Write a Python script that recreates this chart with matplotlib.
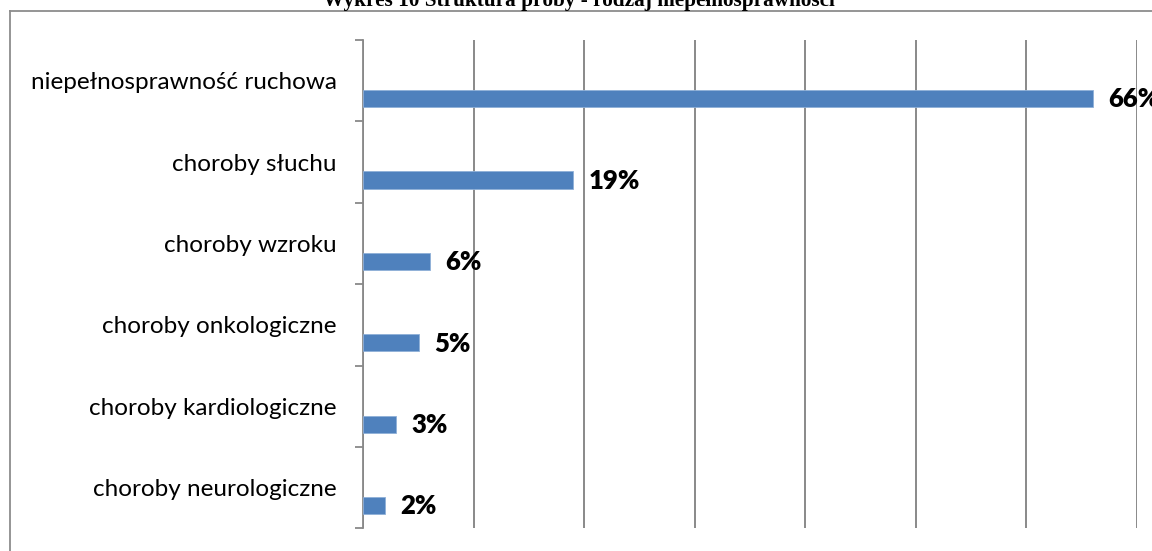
import matplotlib
matplotlib.use("Agg")
import matplotlib.pyplot as plt
from matplotlib.lines import Line2D
import numpy as np

# data (percent of respondents)
categories = ["niepełnosprawność ruchowa", "choroby słuchu", "choroby wzroku",
              "choroby onkologiczne", "choroby kardiologiczne", "choroby neurologiczne"]
values = [66, 19, 6, 5, 3, 2]
value_labels = ["66%", "19%", "6%", "5%", "3%", "2%"]
title = "Wykres 10 Struktura próby - rodzaj niepełnosprawności"

W, H = 1152, 551
fig = plt.figure(figsize=(W / 100, H / 100), dpi=100)
grey = "#898989"

# outer chart border (open on the right and bottom, cut by the image edge)
fig.add_artist(Line2D([10 / W, 10 / W], [0, 1 - 10.7 / H], transform=fig.transFigure,
                      color="#8c8c8c", lw=1.3))
fig.add_artist(Line2D([10 / W, 1], [1 - 10.7 / H, 1 - 10.7 / H], transform=fig.transFigure,
                      color="#8c8c8c", lw=1.3))

# title, cut off at the top edge like in the source
fig.text(579 / W, 1 - 6 / H, title, ha="center", va="baseline",
         family="Liberation Serif", weight="bold", fontsize=15.3)

ax = fig.add_axes([363.3 / W, 1 - 528.3 / H, (1136.7 - 363.3) / W, (528.3 - 40) / H])
y = np.arange(len(categories))
ax.barh(y + 0.22, values, height=0.21, color="#4F81BD", edgecolor="#8fb0d8", linewidth=0.6,
        zorder=3)
ax.set_xlim(0, 70)
ax.set_ylim(len(categories) - 0.5, -0.5)

ax.set_xticks(np.arange(0, 71, 10))
ax.tick_params(axis="x", length=0, labelbottom=False)
ax.grid(axis="x", color=grey, lw=1.4)
ax.set_axisbelow(True)

# band boundary ticks + category labels
ax.set_yticks(np.arange(-0.5, len(categories), 1))
ax.set_yticklabels([])
ax.tick_params(axis="y", which="major", length=6, width=1.3, color=grey, direction="out")
ax.set_yticks(y, minor=True)
ax.set_yticklabels(categories, minor=True, family="Lato", fontsize=17.5)
ax.tick_params(axis="y", which="minor", length=0, pad=19)

for s in ["top", "right", "bottom"]:
    ax.spines[s].set_visible(False)
ax.spines["left"].set_color(grey)
ax.spines["left"].set_linewidth(1.3)

for yi, v, lab in zip(y, values, value_labels):
    ax.annotate(lab, (v, yi + 0.23), xytext=(11, 0), textcoords="offset points",
                ha="left", va="center", family="Lato", weight="heavy", fontsize=18.5,
                annotation_clip=False)

fig.savefig("out.png", dpi=100)
